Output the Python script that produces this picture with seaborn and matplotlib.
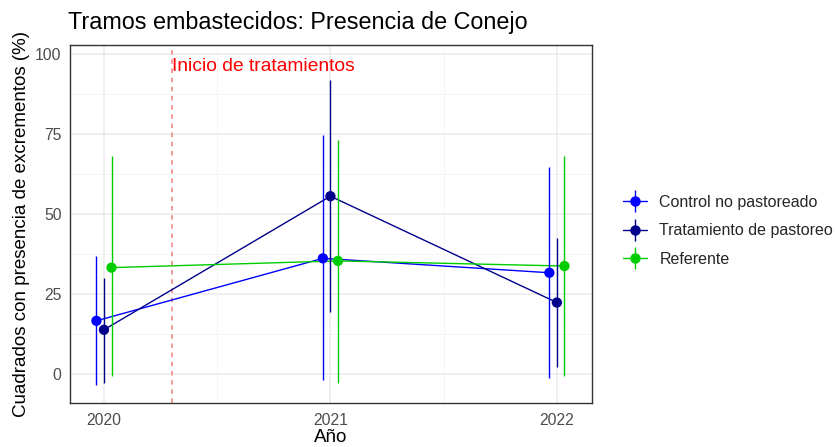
import numpy as np
import pandas as pd
import matplotlib
matplotlib.use("Agg")
import matplotlib.pyplot as plt
import seaborn as sns
from matplotlib.lines import Line2D
from matplotlib.legend_handler import HandlerTuple

# ---- data ----
years = [2020, 2021, 2022]
groups = ["Control no pastoreado", "Tratamiento de pastoreo", "Referente"]
control_mean = [16.7, 36.2, 31.7]
control_lo = [-3.4, -1.8, -1.0]
control_hi = [36.9, 74.7, 64.6]
trat_mean = [13.9, 55.6, 22.4]
trat_lo = [-2.7, 19.5, 2.2]
trat_hi = [30.0, 92.0, 42.6]
ref_mean = [33.3, 35.4, 33.8]
ref_lo = [-0.6, -2.6, -0.5]
ref_hi = [68.1, 73.1, 68.1]
colors = ["#0000FF", "#00008B", "#00CD00"]
vline_x = 2020.3
annot_text = "Inicio de tratamientos"

means = [control_mean, trat_mean, ref_mean]
los = [control_lo, trat_lo, ref_lo]
his = [control_hi, trat_hi, ref_hi]
dodge = [-0.0333, 0.0, 0.0333]

rows = []
for g, m, lo, hi, d in zip(groups, means, los, his, dodge):
    for y, mm, l, h in zip(years, m, lo, hi):
        rows.append(dict(grupo=g, anio=y, x=y + d, media=mm, lo=l, hi=h))
df = pd.DataFrame(rows)

sns.set_theme(style="white")
plt.rcParams["font.family"] = ["Liberation Sans", "DejaVu Sans"]

fig = plt.figure(figsize=(8.36, 4.47), dpi=100)
ax = fig.add_axes([70 / 836, 1 - 403 / 447, (592 - 70) / 836, (403 - 45) / 447])

# grid
for v in [0, 25, 50, 75, 100]:
    ax.axhline(v, color="#EBEBEB", lw=1.1, zorder=0)
for v in [12.5, 37.5, 62.5, 87.5]:
    ax.axhline(v, color="#F3F3F3", lw=0.6, zorder=0)
for v in years:
    ax.axvline(v, color="#EBEBEB", lw=1.1, zorder=0)
for v in [2020.5, 2021.5]:
    ax.axvline(v, color="#F3F3F3", lw=0.6, zorder=0)

pal = dict(zip(groups, colors))
sns.lineplot(data=df, x="x", y="media", hue="grupo", palette=pal, ax=ax,
             lw=1.0, legend=False, zorder=3, sort=True)
for g in groups:
    sub = df[df.grupo == g]
    ax.vlines(sub.x, sub.lo, sub.hi, color=pal[g], lw=1.0, zorder=3)
sns.scatterplot(data=df, x="x", y="media", hue="grupo", palette=pal, ax=ax,
                s=55, edgecolor="none", legend=False, zorder=4)

ax.axvline(vline_x, color="#F08080", lw=1.1, ls=(0, (3, 3)), zorder=2)
ax.text(vline_x, 96, annot_text, color="red", fontsize=13.9, ha="left", va="center")

ax.set_xlim(2019.85, 2022.155)
ax.set_ylim(-8.96, 102.8)
ax.set_xticks(years)
ax.set_xticklabels([str(y) for y in years])
ax.set_yticks([0, 25, 50, 75, 100])
ax.set_yticklabels(["0", "25", "50", "75", "100"])
ax.tick_params(axis="both", labelsize=11.3, colors="#333333", length=4, width=0.8,
               pad=2)
ax.tick_params(axis="x", pad=3)
ax.tick_params(labelcolor="#4D4D4D")
for s in ax.spines.values():
    s.set_color("#333333")
    s.set_linewidth(1.0)

ax.set_xlabel("Año", fontsize=13.5, color="black", labelpad=1)
ax.set_ylabel("Cuadrados con presencia de excrementos (%)", fontsize=13.5,
              color="black", labelpad=4)
fig.text(68 / 836, 1 - 23 / 447, "Tramos embastecidos: Presencia de Conejo",
         fontsize=16.8, color="black", ha="left", va="center")

handles = []
for c in colors:
    h1 = Line2D([], [], color=c, lw=1.0, marker="|", markersize=16.5, markeredgewidth=1.0)
    h2 = Line2D([], [], color=c, lw=0, marker="o", markersize=6.5)
    handles.append((h1, h2))
fig.legend(handles, groups, handler_map={tuple: HandlerTuple(ndivide=1)},
           loc="center left", bbox_to_anchor=(609 / 836, 1 - 231 / 447),
           frameon=False, fontsize=11.5, handlelength=1.45, labelspacing=0.85,
           handletextpad=0.8)

fig.savefig("out.png", dpi=100)
